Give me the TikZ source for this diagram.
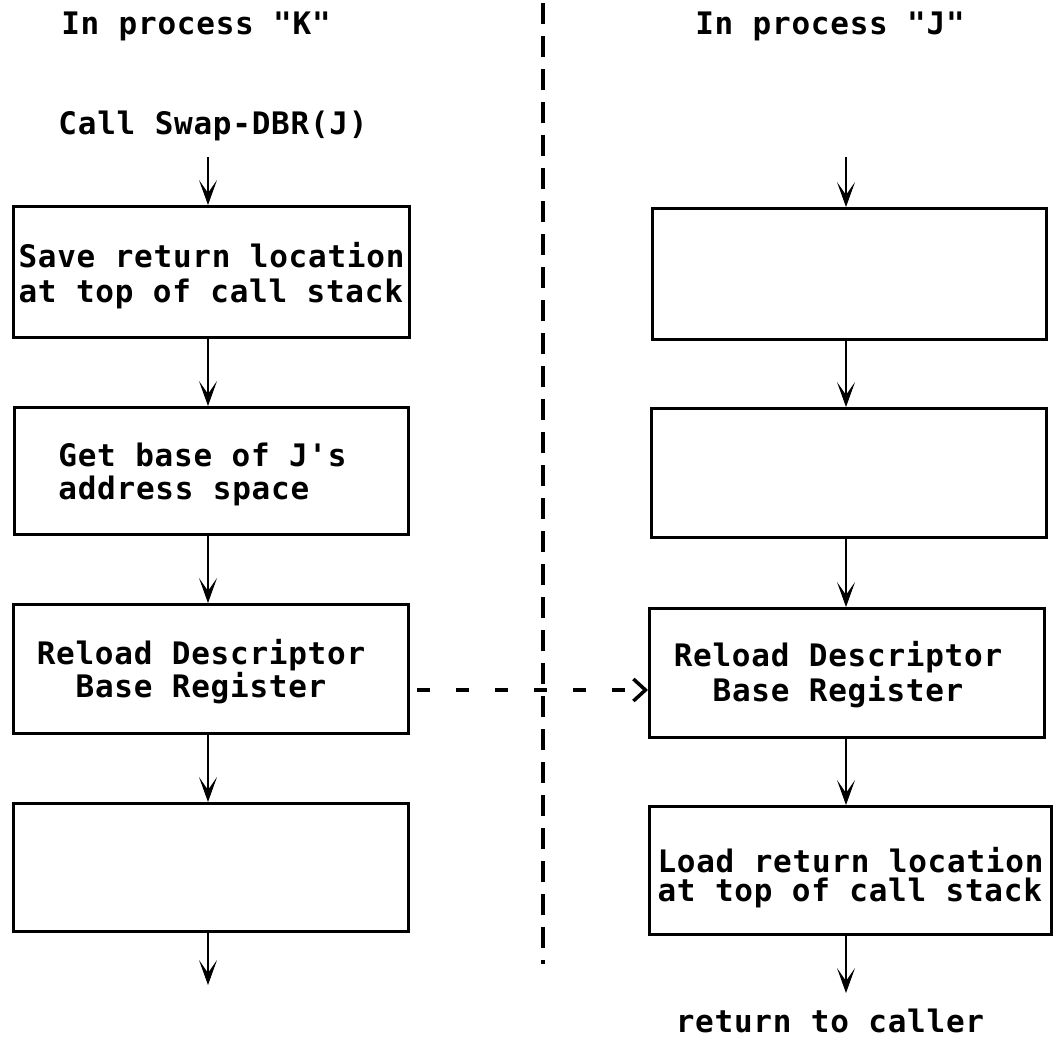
\documentclass[tikz,border=0pt]{standalone}
\usepackage{fontspec}
\usetikzlibrary{arrows.meta}
\newfontfamily\typefont[LetterSpace=2.4]{DejaVu Sans Mono}
\newcommand{\topstrut}[1]{\rule{0pt}{#1}}
\begin{document}
\begin{tikzpicture}[x=1pt,y=-1pt,
  txt/.style={font=\typefont\bfseries\fontsize{31}{33}\selectfont, inner sep=0pt},
  stepbox/.style={draw, line width=3pt, inner sep=0pt, align=center,
    font=\typefont\bfseries\fontsize{31}{33}\selectfont},
  flow/.style={line width=2pt, -{Stealth[length=25pt,width=18pt,inset=13pt,line width=1pt]}},
  divider/.style={line width=4pt, dash pattern=on 21pt off 12pt},
  sendarrow/.style={line width=3.5pt, dash pattern=on 13pt off 26pt,
    -{Straight Barb[length=12pt,width=22pt,line width=3.5pt]}}]
\fill[white] (0,0) rectangle (1060,1038);
\useasboundingbox (0,0) rectangle (1060,1038);

% column axes
\coordinate (lx) at (208,0);
\coordinate (rx) at (846,0);
\coordinate (dy) at (0,690);

% titles
\node[txt, anchor=base] (titleK) at (196,35) {In process "K"};
\node[txt, anchor=base] (titleJ) at (830,35) {In process "J"};
\node[txt, anchor=base] (call) at (213,135) {Call Swap-DBR(J)};
\node[txt, anchor=base] (ret) at (830,1032) {return to caller};

% left column (process K)
\node[stepbox, align=left, minimum width=396pt, minimum height=131pt] (L1) at (211.5,272)
  {\topstrut{33.4pt}Save return location\\[2pt]at top of call stack};
\node[stepbox, align=left, minimum width=394pt, minimum height=127pt] (L2) at (211.5,471)
  {\topstrut{31.4pt}Get base of J's\hspace*{18pt}\\address space};
\node[stepbox, minimum width=395pt, minimum height=129pt] (L3) at (211,669)
  {\topstrut{31.4pt}Reload Descriptor\hspace*{20pt}\\Base Register\hspace*{20pt}};
\node[stepbox, minimum width=395pt, minimum height=128pt] (L4) at (211,867.5) {};

% right column (process J)
\node[stepbox, minimum width=394pt, minimum height=131pt] (R1) at (849.5,274) {};
\node[stepbox, minimum width=395pt, minimum height=129pt] (R2) at (849,473) {};
\node[stepbox, minimum width=395pt, minimum height=129pt] (R3) at (847,673)
  {\topstrut{29.4pt}Reload Descriptor\hspace*{18pt}\\[2pt]Base Register\hspace*{18pt}};
\node[stepbox, align=left, minimum width=402pt, minimum height=128pt] (R4) at (850.5,870.5)
  {\topstrut{40.4pt}Load return location\\[-4pt]at top of call stack};

% free ends
\coordinate (linK) at (208,157);
\coordinate (loutK) at (208,985);
\coordinate (linJ) at (846,157);
\coordinate (loutJ) at (846,993);

% flow arrows, left
\draw[flow] (linK) -- (L1.north -| lx);
\draw[flow] (L1.south -| lx) -- (L2.north -| lx);
\draw[flow] (L2.south -| lx) -- (L3.north -| lx);
\draw[flow] (L3.south -| lx) -- (L4.north -| lx);
\draw[flow] (L4.south -| lx) -- (loutK);

% flow arrows, right
\draw[flow] (linJ) -- (R1.north -| rx);
\draw[flow] (R1.south -| rx) -- (R2.north -| rx);
\draw[flow] (R2.south -| rx) -- (R3.north -| rx);
\draw[flow] (R3.south -| rx) -- (R4.north -| rx);
\draw[flow] (R4.south -| rx) -- (loutJ);

% divider between processes
\coordinate (divtop) at (543,3);
\coordinate (divbot) at (543,964);
\draw[divider] (divtop) -- (divbot);

% cross-process dashed arrow
\draw[sendarrow] ([xshift=7pt]L3.east |- dy) -- (R3.west |- dy);
\end{tikzpicture}
\end{document}
